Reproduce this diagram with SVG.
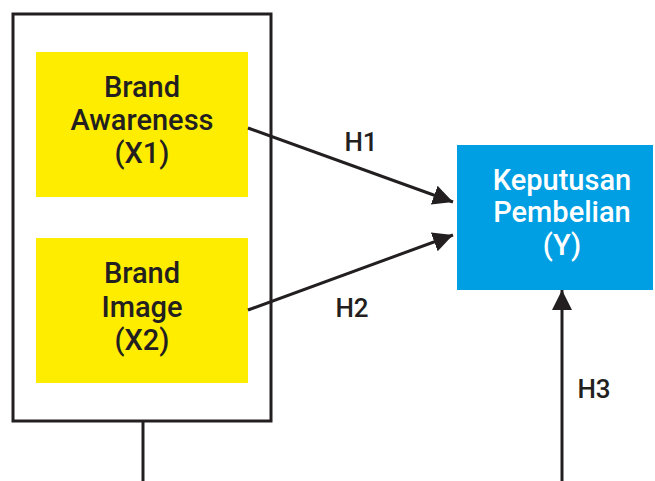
<svg xmlns="http://www.w3.org/2000/svg" width="655" height="481" viewBox="0 0 655 481">
  <style>
    .frame { fill: #ffffff; stroke: #231f20; stroke-width: 3; }
    .var { fill: #ffed00; }
    .dep { fill: #009fe3; }
    .lbl { font-family: Roboto, "Liberation Sans", sans-serif; font-weight: 500; font-size: 29px; text-anchor: middle; fill: #231f20; }
    .lbl.w { fill: #ffffff; }
    .lbl.h { font-size: 26px; }
    .edge { fill: none; stroke: #231f20; stroke-width: 3; }
  </style>
  <defs>
    <marker id="arrow" viewBox="0 0 20 20" refX="20" refY="10" markerWidth="20" markerHeight="20" markerUnits="userSpaceOnUse" orient="auto">
      <path d="M0,0 L20,10 L0,20 Z" fill="#231f20"/>
    </marker>
  </defs>

  <rect width="655" height="481" fill="#ffffff"/>

  <!-- independent variables frame -->
  <g id="frame-x">
    <rect class="frame" x="13" y="14" width="258" height="407"/>
  </g>

  <g id="node-x1">
    <rect class="var" x="36" y="52" width="212" height="145"/>
    <text class="lbl" x="142" y="97">Brand</text>
    <text class="lbl" x="142" y="130">Awareness</text>
    <text class="lbl" x="142" y="163">(X1)</text>
  </g>

  <g id="node-x2">
    <rect class="var" x="36" y="238" width="212" height="145"/>
    <text class="lbl" x="142" y="283">Brand</text>
    <text class="lbl" x="142" y="317">Image</text>
    <text class="lbl" x="142" y="350">(X2)</text>
  </g>

  <g id="node-y">
    <rect class="dep" x="457" y="145" width="196" height="145"/>
    <text class="lbl w" x="562" y="190">Keputusan</text>
    <text class="lbl w" x="562" y="222">Pembelian</text>
    <text class="lbl w" x="562" y="255">(Y)</text>
  </g>

  <g id="connectors">
    <line class="edge" x1="248" y1="128" x2="453" y2="202" marker-end="url(#arrow)"/>
    <line class="edge" x1="248" y1="310" x2="453" y2="235" marker-end="url(#arrow)"/>
    <line class="edge" x1="143" y1="421" x2="143" y2="481"/>
    <line class="edge" x1="562" y1="481" x2="562" y2="290" marker-end="url(#arrow)"/>
    <text class="lbl h" x="361" y="151">H1</text>
    <text class="lbl h" x="352" y="317">H2</text>
    <text class="lbl h" x="594" y="398">H3</text>
  </g>
</svg>
